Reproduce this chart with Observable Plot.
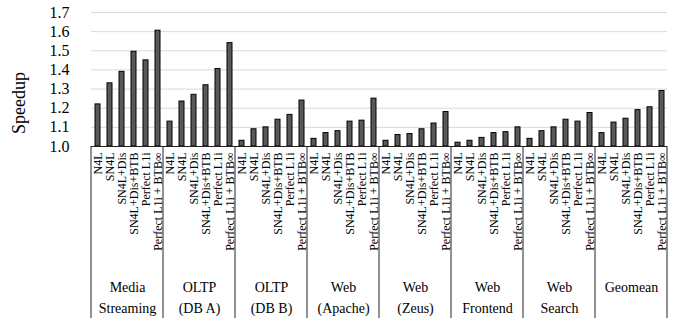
<!DOCTYPE html>
<html><head><meta charset="utf-8">
<script src="https://cdn.jsdelivr.net/npm/d3@7"></script>
<script src="https://cdn.jsdelivr.net/npm/@observablehq/plot@0.6"></script>
<style>
body{margin:0;background:#fff}
#chart svg, #chart svg text { font-family: "Liberation Serif", serif !important; }
</style>
</head><body><div id="chart"></div>
<script>
const groups = ["Media\nStreaming", "OLTP\n(DB A)", "OLTP\n(DB B)", "Web\n(Apache)", "Web\n(Zeus)", "Web\nFrontend", "Web\nSearch", "Geomean"];
const series = ["N4L", "SN4L", "SN4L+Dis", "SN4L+Dis+BTB", "Perfect L1i", "Perfect L1i + BTB∞"];
const mediaStreaming = [1.22, 1.33, 1.39, 1.495, 1.45, 1.605];
const oltpDbA = [1.13, 1.235, 1.27, 1.32, 1.405, 1.54];
const oltpDbB = [1.03, 1.09, 1.10, 1.14, 1.165, 1.24];
const webApache = [1.04, 1.07, 1.08, 1.13, 1.135, 1.25];
const webZeus = [1.03, 1.06, 1.065, 1.09, 1.12, 1.18];
const webFrontend = [1.02, 1.03, 1.045, 1.07, 1.075, 1.10];
const webSearch = [1.04, 1.08, 1.10, 1.14, 1.13, 1.175];
const geomean = [1.07, 1.125, 1.145, 1.19, 1.205, 1.29];
const yTicks = [1.0, 1.1, 1.2, 1.3, 1.4, 1.5, 1.6, 1.7];

const values = [mediaStreaming, oltpDbA, oltpDbB, webApache, webZeus, webFrontend, webSearch, geomean];
const data = groups.flatMap((g, i) => series.map((s, j) => ({group: g, series: s, value: values[i][j]})));

const chart = Plot.plot({
  width: 678, height: 324,
  marginLeft: 89, marginRight: 10, marginTop: 12, marginBottom: 178,
  style: {fontFamily: "Liberation Serif", background: "white", color: "#000"},
  fx: {domain: groups, padding: 0, label: null},
  x: {domain: series, paddingInner: 0.6, paddingOuter: 0.3, label: null},
  y: {domain: [1, 1.7], label: null},
  marks: [
    Plot.gridY(yTicks.slice(1), {stroke: "#d9d9d9", strokeOpacity: 1, strokeWidth: 1}),
    Plot.barY(data, {fx: "group", x: "series", y1: 1, y2: "value", fill: "#595959", stroke: "#000", strokeWidth: 1}),
    Plot.ruleY([1], {stroke: "#222"}),
    Plot.axisY(yTicks, {tickSize: 0, tickPadding: 22, tickFormat: d3.format(".1f"), fontSize: 16, label: null}),
    Plot.axisX({tickRotate: -90, tickSize: 0, tickPadding: 6, fontSize: 12, label: null}),
    Plot.axisFx({anchor: "bottom", tickSize: 0, tickPadding: 131, fontSize: 14, lineHeight: 1.5, label: null})
  ]
});

const svg = d3.select(chart);
const fx = chart.scale("fx");
const y = chart.scale("y");
const y0 = y.apply(1);
const bounds = groups.map(g => fx.apply(g)).concat([fx.apply(groups[groups.length - 1]) + fx.bandwidth]);
svg.append("g").selectAll("line").data(bounds).join("line")
  .attr("x1", d => d).attr("x2", d => d)
  .attr("y1", y0).attr("y2", 318)
  .attr("stroke", "#222").attr("stroke-width", 1);
svg.append("text")
  .attr("transform", `translate(19,${(y.apply(1) + y.apply(1.7)) / 2 + 24}) rotate(-90)`)
  .attr("text-anchor", "middle").attr("dominant-baseline", "central")
  .attr("font-size", 18)
  .text("Speedup");

document.getElementById("chart").appendChild(chart);
</script>
</body></html>
